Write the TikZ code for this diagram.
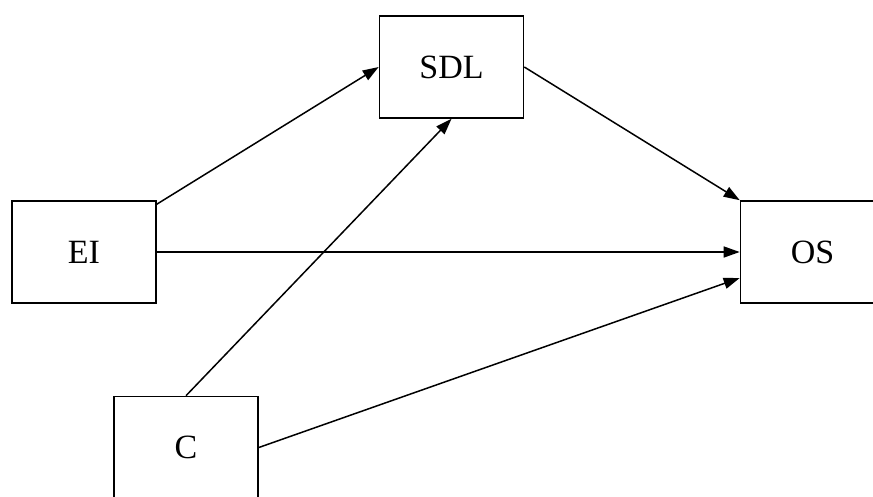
\documentclass[tikz,border=0pt]{standalone}
\usepackage{fontspec}
\setmainfont{Liberation Serif}
\usetikzlibrary{arrows.meta}
\begin{document}
\begin{tikzpicture}[x=1pt,y=1pt,
  box/.style={draw, line width=1.6pt, minimum width=144pt, minimum height=102pt, inner sep=0pt, font=\fontsize{34}{40}\selectfont},
  arr/.style={line width=1.5pt, -{Triangle[length=16pt,width=11pt]}}]
\useasboundingbox (0,0) rectangle (873,-496);
\node[box] (EI) at (84,-252) {EI};
\node[box] (SDL) at (451.5,-67) {SDL};
\node[box] (OS) at (812.5,-252) {OS};
\node[box] (C) at (186,-447.5) {C};
\draw[arr] ([yshift=-4pt]EI.north east) -- (SDL.west);
\draw[arr] (EI.east) -- (OS.west);
\draw[arr] (C.north) -- (SDL.south);
\draw[arr] (C.east) -- ([yshift=-26pt]OS.west);
\draw[arr] (SDL.east) -- (OS.north west);
\end{tikzpicture}
\end{document}
